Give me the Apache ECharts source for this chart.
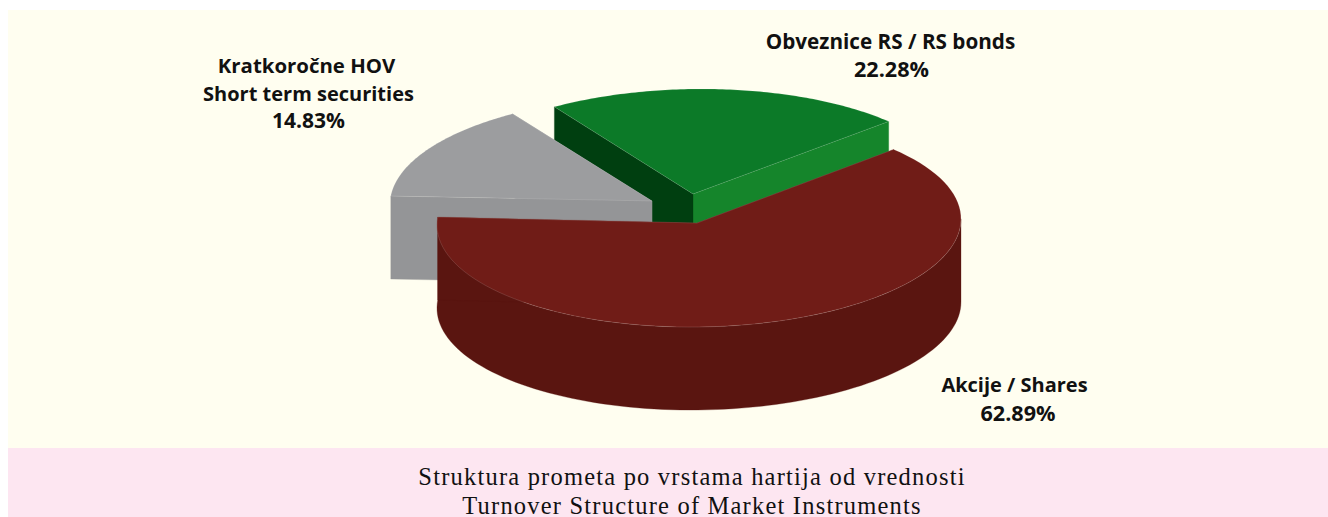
<!DOCTYPE html>
<html>
<head>
<meta charset="utf-8">
<style>
html,body{margin:0;padding:0;background:#fff;}
#c{width:1328px;height:517px;}
#c text[style*="Liberation Serif"]{letter-spacing:1.2px;}
</style>
<script src="https://cdn.jsdelivr.net/npm/echarts@6/dist/echarts.min.js"></script>
</head>
<body>
<div id="c"></div>
<script>
// Data
var categories = ['Obveznice RS / RS bonds', 'Kratkoročne HOV / Short term securities', 'Akcije / Shares'];
var shares = [22.28, 14.83, 62.89];
var labelLines = [
  ['Obveznice RS / RS bonds', '22.28%'],
  ['Kratkoročne HOV', 'Short term securities', '14.83%'],
  ['Akcije / Shares', '62.89%']
];
var captionLines = ['Struktura prometa po vrstama hartija od vrednosti', 'Turnover Structure of Market Instruments'];

// Styling and layout
var topColors  = ['#0C7A28', '#9C9D9F', '#701C17'];
var wallColors = ['#0C7A28', '#949597', '#5A1510'];
var endFaceColors   = ['#15852B', '#949597', '#5A1510'];
var startFaceColors = ['#003F10', '#949597', '#5A1510'];
var centers = [[694, 194], [652, 201], [699, 222]];
var apexes  = [[693, 194], [652, 201], [697, 223]];
var labelPos = [
  [[890.5, 40.5], [891.5, 68]],
  [[306.5, 65], [308.5, 93], [308.5, 120]],
  [[1014.5, 384], [1018, 412]]
];
var labelSizes = [[20.7, 21.6], [20.4, 20, 21], [20, 21.6]];
var RX = 262, RY = 105, DEPTH = 83, START_DEG = 42, TILT = 0.012;

function arcPoints(c, a0, a1, dy) {
  var pts = [], n = 96;
  for (var i = 0; i <= n; i++) {
    var a = (a0 + (a1 - a0) * i / n) * Math.PI / 180;
    var dx = RX * Math.cos(a);
    pts.push([c[0] + dx, c[1] - RY * Math.sin(a) - TILT * dx + dy]);
  }
  return pts;
}
function poly(points, fill, stroke) {
  return { type: 'polygon', shape: { points: points },
    style: { fill: fill, stroke: stroke || fill, lineWidth: stroke ? 0.6 : 0.3 } };
}
function renderSlice(params, api) {
  var idx = params.dataIndex, before = 0;
  for (var k = 0; k < idx; k++) before += shares[k];
  var total = shares.reduce(function (s, v) { return s + v; }, 0);
  var a0 = START_DEG + before / total * 360;
  var a1 = a0 + api.value(0) / total * 360;
  var c = centers[idx], ap = apexes[idx];
  var top = arcPoints(c, a0, a1, 0);
  var first = top[0], last = top[top.length - 1];
  var low = function (p) { return [p[0], p[1] + DEPTH]; };
  var edge = 'rgba(255,255,255,0.22)';
  var kids = [];
  // the outer wall only shows on the front half of the ellipse
  if (a1 > 180) {
    var w1 = Math.min(a1, 360);
    kids.push(poly(arcPoints(c, a0, w1, 0).concat(arcPoints(c, a0, w1, DEPTH).reverse()), wallColors[idx]));
  }
  kids.push(poly([ap, first, low(first), low(ap)], endFaceColors[idx]));
  kids.push(poly([ap, last, low(last), low(ap)], startFaceColors[idx]));
  kids.push(poly([ap].concat(top), topColors[idx], edge));
  return { type: 'group', children: kids };
}

var chart = echarts.init(document.getElementById('c'), null, { renderer: 'svg' });
var graphics = [
  { type: 'rect', z: -10, shape: { x: 8, y: 10, width: 1320, height: 438 }, style: { fill: '#FFFEF0' } },
  { type: 'rect', z: -10, shape: { x: 8, y: 448, width: 1320, height: 69 }, style: { fill: '#FDE6F1' } }
];
labelLines.forEach(function (lines, i) {
  lines.forEach(function (t, j) {
    graphics.push({ type: 'text', z: 10, x: labelPos[i][j][0], y: labelPos[i][j][1],
      style: { text: t, fill: '#111111', align: 'center', verticalAlign: 'middle',
        font: 'bold ' + labelSizes[i][j] + 'px "Open Sans"' } });
  });
});
captionLines.forEach(function (t, j) {
  graphics.push({ type: 'text', z: 10, x: 692, y: 476 + j * 29,
    style: { text: t, fill: '#111111', align: 'center', verticalAlign: 'middle',
      font: '24.5px "Liberation Serif"' } });
});

chart.setOption({
  animation: false,
  graphic: graphics,
  series: [{
    type: 'custom',
    coordinateSystem: 'none',
    silent: true,
    renderItem: renderSlice,
    data: shares.map(function (v, i) { return { name: categories[i], value: [v] }; })
  }]
});
</script>
</body>
</html>
